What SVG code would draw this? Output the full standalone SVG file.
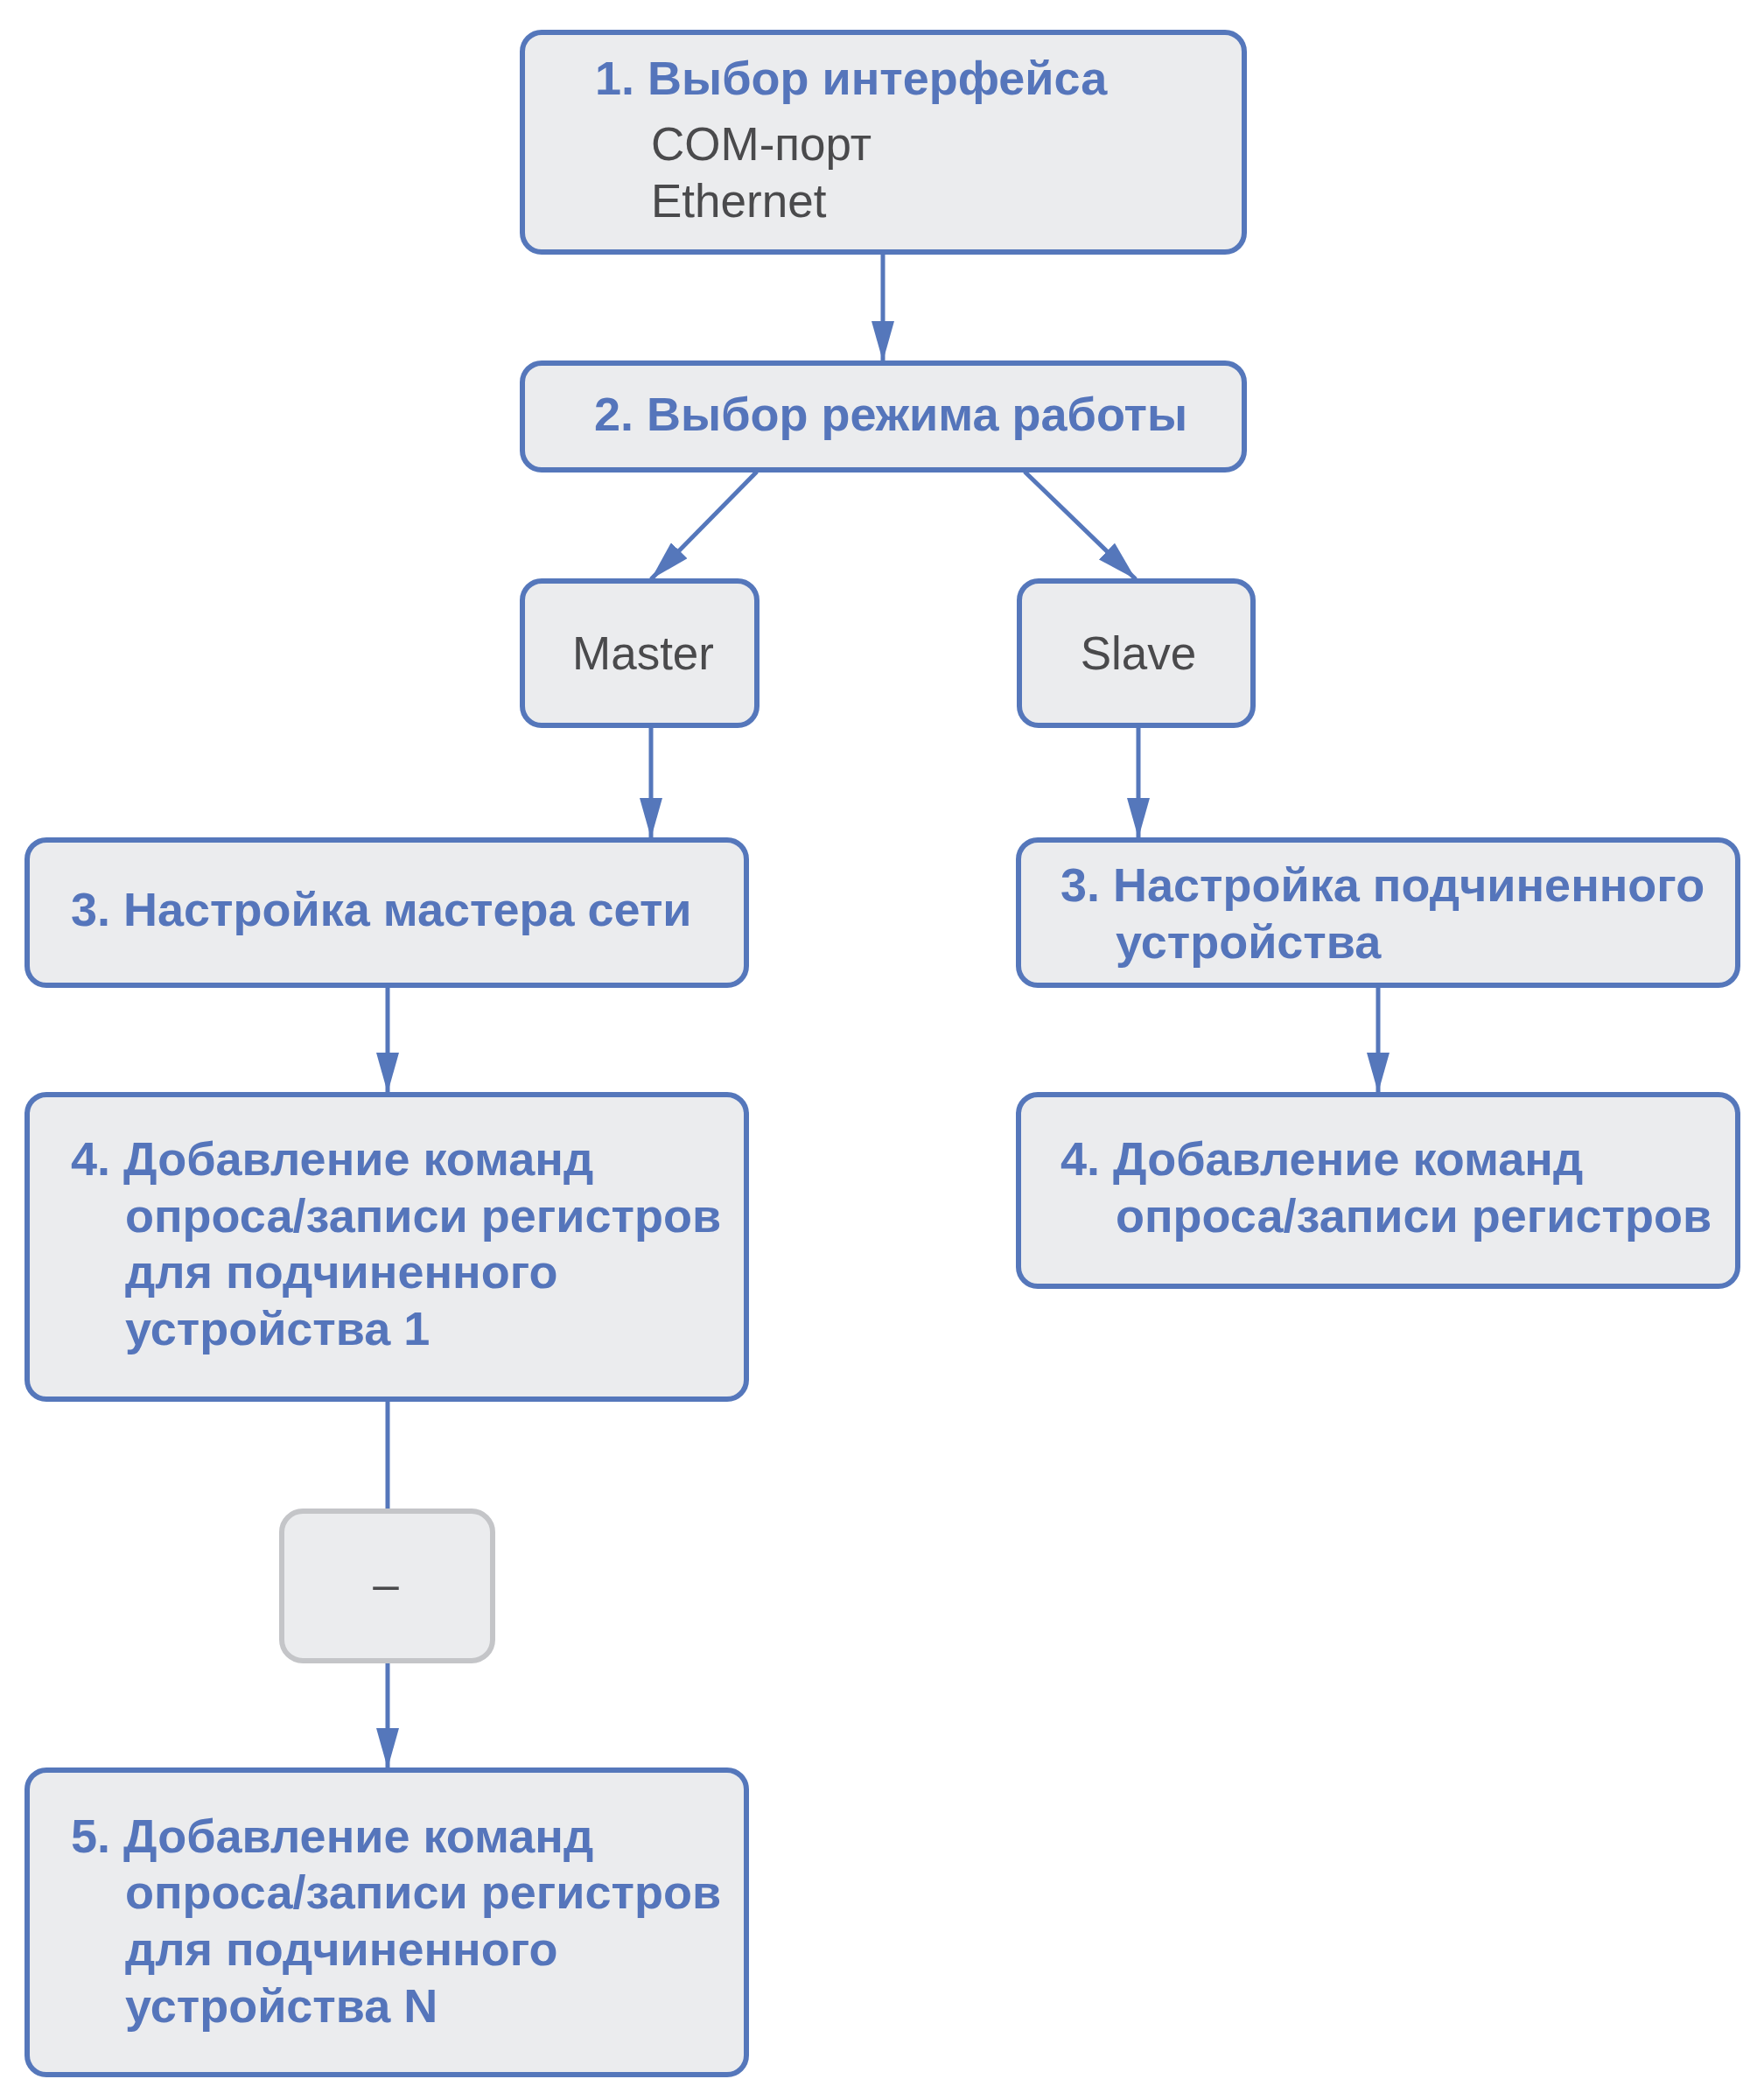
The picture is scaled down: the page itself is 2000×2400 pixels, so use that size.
<svg xmlns="http://www.w3.org/2000/svg" width="2000" height="2400" viewBox="0 0 2000 2400">
<style>
.box{fill:#ebecee;stroke:#5577bb;stroke-width:6}
.gbox{fill:#ebecee;stroke:#c4c5c8;stroke-width:6}
.b{font-family:"Liberation Sans",Arial,sans-serif;font-weight:bold;font-size:54px;fill:#5575bb}
.n{font-family:"Liberation Sans",Arial,sans-serif;font-size:53px;fill:#4a4a4c}
.c{fill:none;stroke:#5577bb;stroke-width:5}
</style>
<defs>
<marker id="a" viewBox="0 0 46 26" refX="46" refY="13" markerWidth="46" markerHeight="26" markerUnits="userSpaceOnUse" orient="auto">
<path d="M0,0 L46,13 L0,26 z" fill="#5577bb"/>
</marker>
</defs>
<g id="connectors">
<line class="c" x1="1009" y1="290" x2="1009" y2="413" marker-end="url(#a)"/>
<line class="c" x1="865" y1="539" x2="744" y2="662" marker-end="url(#a)"/>
<line class="c" x1="1171" y1="539" x2="1298" y2="662" marker-end="url(#a)"/>
<line class="c" x1="744" y1="831" x2="744" y2="958" marker-end="url(#a)"/>
<line class="c" x1="1301" y1="831" x2="1301" y2="958" marker-end="url(#a)"/>
<line class="c" x1="443" y1="1128" x2="443" y2="1249" marker-end="url(#a)"/>
<line class="c" x1="1575" y1="1128" x2="1575" y2="1249" marker-end="url(#a)"/>
<line class="c" x1="443" y1="1601" x2="443" y2="1725"/>
<line class="c" x1="443" y1="1899" x2="443" y2="2021" marker-end="url(#a)"/>
</g>
<g id="n1">
<rect class="box" x="597" y="37" width="825" height="251" rx="22"/>
<text class="b" x="680" y="108">1. Выбор интерфейса</text>
<text class="n" x="744" y="183">COM-порт</text>
<text class="n" x="744" y="248">Ethernet</text>
</g>
<g id="n2">
<rect class="box" x="597" y="415" width="825" height="122" rx="22"/>
<text class="b" x="679" y="492">2. Выбор режима работы</text>
</g>
<g id="master">
<rect class="box" x="597" y="664" width="268" height="165" rx="22"/>
<text class="n" x="735" y="765" text-anchor="middle">Master</text>
</g>
<g id="slave">
<rect class="box" x="1165" y="664" width="267" height="165" rx="22"/>
<text class="n" x="1301" y="765" text-anchor="middle">Slave</text>
</g>
<g id="n3m">
<rect class="box" x="31" y="960" width="822" height="166" rx="22"/>
<text class="b" x="81" y="1058">3. Настройка мастера сети</text>
</g>
<g id="n3s">
<rect class="box" x="1164" y="960" width="822" height="166" rx="22"/>
<text class="b" x="1212" y="1030">3. Настройка подчиненного</text>
<text class="b" x="1275" y="1095">устройства</text>
</g>
<g id="n4m">
<rect class="box" x="31" y="1251" width="822" height="348" rx="22"/>
<text class="b" x="81" y="1343">4. Добавление команд</text>
<text class="b" x="143" y="1408">опроса/записи регистров</text>
<text class="b" x="143" y="1472">для подчиненного</text>
<text class="b" x="143" y="1537">устройства 1</text>
</g>
<g id="n4s">
<rect class="box" x="1164" y="1251" width="822" height="219" rx="22"/>
<text class="b" x="1212" y="1343">4. Добавление команд</text>
<text class="b" x="1275" y="1408">опроса/записи регистров</text>
</g>
<g id="dots">
<rect class="gbox" x="322" y="1727" width="241" height="171" rx="24"/>
<text class="n" x="441" y="1829" text-anchor="middle">–</text>
</g>
<g id="n5">
<rect class="box" x="31" y="2023" width="822" height="348" rx="22"/>
<text class="b" x="81" y="2117">5. Добавление команд</text>
<text class="b" x="143" y="2181">опроса/записи регистров</text>
<text class="b" x="143" y="2246">для подчиненного</text>
<text class="b" x="143" y="2311">устройства N</text>
</g>
</svg>
